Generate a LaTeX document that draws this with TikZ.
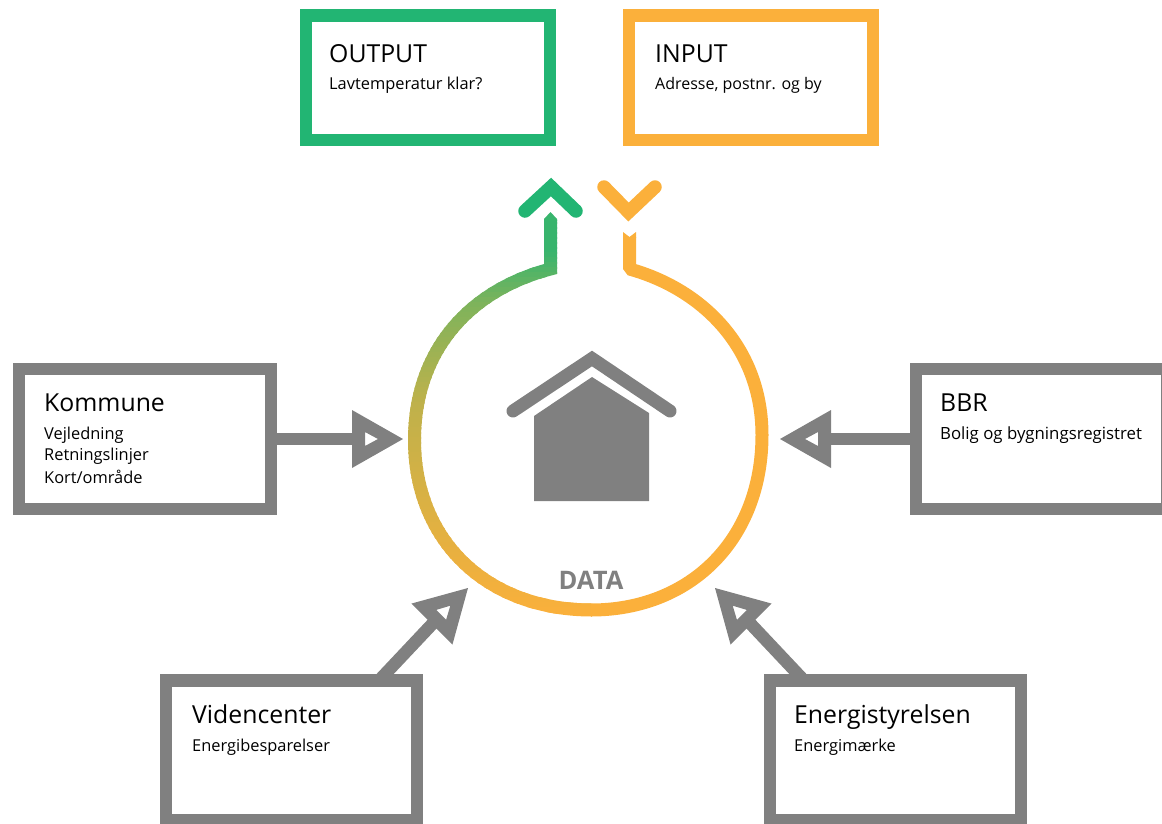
\documentclass[tikz,border=0pt]{standalone}
\usepackage{fontspec}
\setmainfont{Open Sans}
\definecolor{gr}{HTML}{808080}
\definecolor{grn}{HTML}{22B573}
\definecolor{org}{HTML}{FBB03B}
\tikzset{
  frame/.style={draw=#1,line width=12.5pt,inner sep=0pt,outer sep=0pt,anchor=north west,fill=white},
  title/.style={anchor=base west,inner sep=0pt,font=\fontsize{24.8}{24.8}\selectfont,text=black},
  sub/.style={anchor=base west,inner sep=0pt,font=\fontsize{16.4}{16.4}\selectfont,text=black},
  shaft/.style={draw=gr,line width=12.5pt},
  chev/.style={line width=13.5pt,line cap=round,line join=miter},
  ring/.style={line width=13pt},
  hollow/.pic={\fill[gr,even odd rule] (0,0)--(-51,-29)--(-51,29)--cycle (-38,-7)--(-38,7)--(-25,0)--cycle;}
}
\newcommand{\leftring}{(550.5,220)--(550.5,269) .. controls (470,290) and (414.5,350) .. (414.5,440) .. controls (414.5,540) and (486,610) .. (592,610)}
\begin{document}
\begin{tikzpicture}[x=1pt,y=-1pt]
\useasboundingbox (0,0) rectangle (1162,823);
\clip (0,0) rectangle (1162,823);
% boxes
\node[frame=grn,minimum width=244pt,minimum height=124.5pt] (out) at (306,15.5) {};
\node[frame=org,minimum width=244pt,minimum height=124.5pt] (inp) at (629,15.5) {};
\node[frame=gr,minimum width=252pt,minimum height=140pt] (kom) at (19,369) {};
\node[frame=gr,minimum width=251pt,minimum height=140pt] (bbr) at (916,369) {};
\node[frame=gr,minimum width=251pt,minimum height=140pt] (vid) at (166,680.5) {};
\node[frame=gr,minimum width=251pt,minimum height=140pt] (ene) at (770,680.5) {};
% box texts
\node[title] (t1) at (329,62) {OUTPUT};
\node[sub] (s1) at (329,89) {Lavtemperatur klar?};
\node[title] (t2) at (655,62) {INPUT};
\node[sub,font=\fontsize{16}{16}\selectfont] (s2) at (655,89) {Adresse, postnr. og by};
\node[title] (t3) at (44,411) {Kommune};
\node[sub] (s3a) at (44,439) {Vejledning};
\node[sub] (s3b) at (44,460) {Retningslinjer};
\node[sub] (s3c) at (44,483) {Kort/område};
\node[title] (t4) at (940,411) {BBR};
\node[sub,font=\fontsize{16.8}{16.8}\selectfont] (s4) at (940,439) {Bolig og bygningsregistret};
\node[title] (t5) at (192,723) {Videncenter};
\node[sub] (s5) at (192,751) {Energibesparelser};
\node[title] (t6) at (794,723) {Energistyrelsen};
\node[sub] (s6) at (794,751) {Energimærke};
% gradient half of the ring
\foreach \i in {0,...,85}{
  \pgfmathsetmacro{\yy}{212+\i*5}
  \pgfmathsetmacro{\f}{min(100,max(10,min(20+0.63*(\yy-265),min(42+0.3*(\yy-300),72+0.13*(\yy-400)))))}
  \begin{scope}
    \clip (400,\yy) rectangle (592,{\yy+6});
    \draw[ring,line join=miter,draw=org!\f!grn] \leftring;
  \end{scope}
}
\fill[org!10!grn] (544,221)--(544,219)--(550.5,212)--(557,219)--(557,221)--cycle;
% right half
\draw[ring,draw=org,line join=bevel] (629.5,237)--(629.5,269) .. controls (705,290) and (762,350) .. (762,435) .. controls (762,540) and (690,610) .. (591,610);
\fill[org] (623,238)--(623,232)--(629.5,237)--(636,232)--(636,238)--cycle;
% chevrons
\draw[chev,draw=grn] (525,211)--(551,187)--(576,211);
\draw[chev,draw=org] (604,187)--(628.5,212)--(655,187);
% house
\draw[gr,line width=13pt,line cap=round,line join=miter] (513,411)--(592,358.5)--(670,411);
\fill[gr] (534,416)--(592,377)--(649,413)--(649,501)--(534,501)--cycle;
\node[anchor=base,inner sep=0pt,font=\bfseries\fontsize{25.5}{25.5}\selectfont,text=gr] (data) at (591,589) {DATA};
% connectors
\coordinate (k1) at (403,439);
\coordinate (b1) at (780,439);
\coordinate (v1) at (468,588);
\coordinate (e1) at (715,588);
\coordinate (k0) at (360,439);
\coordinate (b0) at (823,439);
\coordinate (v0) at (436,620);
\coordinate (e0) at (747,620);
\draw[shaft] (kom.east|-k0)--(k0);
\draw[shaft] (bbr.west|-b0)--(b0);
\draw[shaft] (vid.north-|379,0)--(v0);
\draw[shaft] (ene.north-|804,0)--(e0);
\pic[rotate=0] at (k1) {hollow};
\pic[rotate=180] at (b1) {hollow};
\pic[rotate=45] at (v1) {hollow};
\pic[rotate=135] at (e1) {hollow};
\end{tikzpicture}
\end{document}
